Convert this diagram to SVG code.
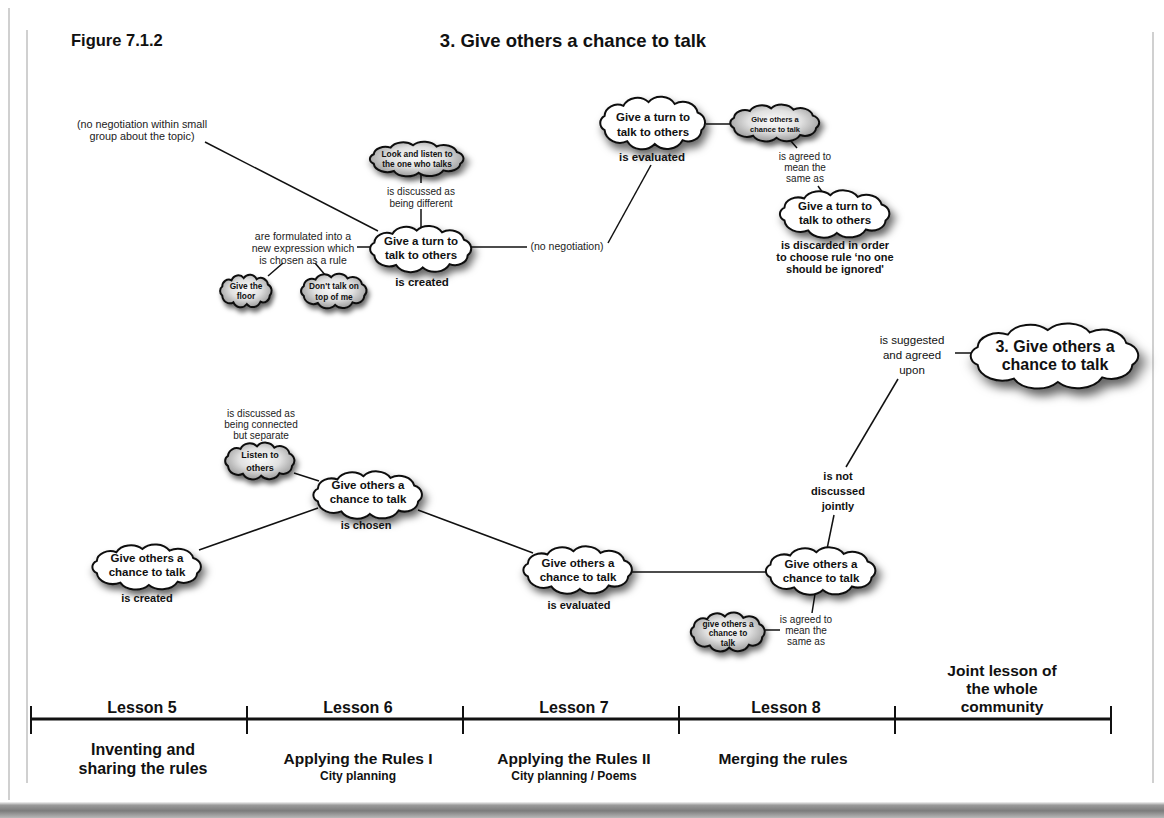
<svg xmlns="http://www.w3.org/2000/svg" xmlns:xlink="http://www.w3.org/1999/xlink" width="1164" height="818" viewBox="0 0 1164 818">
  <style>
    text { font-family: "Liberation Sans", Arial, sans-serif; fill: #111; text-anchor: middle; }
    .b { font-weight: bold; }
    .t12 { font-size: 11.5px; font-weight: bold; }
    .t8 { font-size: 8.3px; font-weight: bold; }
    .lbl { font-size: 10.5px; fill: #222; }
    .lbs { font-size: 10px; fill: #222; }
    .tl { font-size: 16px; font-weight: bold; }
    .sub { font-size: 15.5px; font-weight: bold; }
    .edge { stroke: #111; stroke-width: 1.5; fill: none; }
    .white { fill: #fff; }
    .grey { fill: url(#greyFill); }
    .frame { stroke: #d0d0d0; stroke-width: 2; fill: none; }
  </style>
  <defs>
    <!-- generic cloud outline, about 94 x 52, centred on 0,0 -->
    <path id="cloud" stroke="#111" stroke-width="2" vector-effect="non-scaling-stroke"
      d="M-43.2,-7.2 A11.7,11.7 0 0 1 -26.4,-17.2 A13.6,13.6 0 0 1 -4,-20.9 A14.1,14.1 0 0 1 19.4,-19 A13.3,13.3 0 0 1 39.8,-10.5 A10.8,10.8 0 0 1 43.2,7.2 A11.7,11.7 0 0 1 26.4,17.2 A15.1,15.1 0 0 1 1.6,21 A14.9,14.9 0 0 1 -23,18.2 A13.8,13.8 0 0 1 -43.2,7.2 A8.6,8.6 0 0 1 -43.2,-7.2 Z"/>
    <radialGradient id="greyFill" cx="50%" cy="45%" r="60%">
      <stop offset="0" stop-color="#fbfbfb"/>
      <stop offset="0.5" stop-color="#e0e0e0"/>
      <stop offset="1" stop-color="#909090"/>
    </radialGradient>
    <filter id="shadow" x="-25%" y="-25%" width="160%" height="180%">
      <feGaussianBlur in="SourceAlpha" stdDeviation="4"/>
      <feOffset dx="3" dy="6" result="o"/>
      <feFlood flood-color="#000" flood-opacity="0.6"/>
      <feComposite in2="o" operator="in"/>
      <feMerge><feMergeNode/><feMergeNode in="SourceGraphic"/></feMerge>
    </filter>
    <linearGradient id="curl" x1="0" y1="0" x2="0" y2="1">
      <stop offset="0" stop-color="#f4f4f4"/>
      <stop offset="0.2" stop-color="#9a9a9a"/>
      <stop offset="0.55" stop-color="#7c7c7c"/>
      <stop offset="1" stop-color="#b8b8b8"/>
    </linearGradient>
  </defs>

  <!-- page background and frame -->
  <rect width="1164" height="818" fill="#fff"/>
  <rect x="0" y="802" width="1164" height="16" fill="url(#curl)"/>
  <line class="frame" x1="9" y1="8" x2="9" y2="800"/>
  <line class="frame" x1="27" y1="30" x2="27" y2="783"/>
  <line class="frame" x1="1153" y1="32" x2="1153" y2="783"/>

  <!-- headings -->
  <text x="71" y="46" class="b" style="font-size:16.5px;text-anchor:start">Figure 7.1.2</text>
  <text x="573" y="47" class="b" style="font-size:18.5px">3. Give others a chance to talk</text>

  <!-- connectors and their labels -->
  <g id="connectors">
    <line class="edge" x1="205" y1="142" x2="378" y2="231"/>
    <line class="edge" x1="421" y1="173" x2="421" y2="183"/>
    <line class="edge" x1="421" y1="209" x2="421" y2="229"/>
    <line class="edge" x1="357" y1="247" x2="372" y2="247"/>
    <line class="edge" x1="283" y1="263" x2="268" y2="276"/>
    <line class="edge" x1="315" y1="263" x2="326" y2="276"/>
    <line class="edge" x1="471" y1="247" x2="527" y2="247"/>
    <line class="edge" x1="608" y1="243" x2="651" y2="165"/>
    <line class="edge" x1="706" y1="124" x2="732" y2="124"/>
    <line class="edge" x1="790" y1="140" x2="797" y2="148"/>
    <line class="edge" x1="818" y1="186" x2="823" y2="193"/>
    <line class="edge" x1="955" y1="353" x2="976" y2="353"/>
    <line class="edge" x1="898" y1="379" x2="846" y2="467"/>
    <line class="edge" x1="834" y1="515" x2="827" y2="549"/>
    <line class="edge" x1="815" y1="594" x2="812" y2="613"/>
    <line class="edge" x1="764" y1="630" x2="780" y2="630"/>
    <line class="edge" x1="630" y1="572" x2="768" y2="572"/>
    <line class="edge" x1="199" y1="550" x2="318" y2="508"/>
    <line class="edge" x1="418" y1="510" x2="533" y2="553"/>
    <line class="edge" x1="294" y1="473" x2="319" y2="481"/>

    <text class="lbl" x="142" y="128" style="font-size:10.8px">(no negotiation within small</text>
    <text class="lbl" x="142" y="140" style="font-size:10.8px">group about the topic)</text>
    <text class="lbs" x="421" y="195">is discussed as</text>
    <text class="lbs" x="421" y="207">being different</text>
    <text class="lbl" x="303" y="240">are formulated into a</text>
    <text class="lbl" x="303" y="252">new expression which</text>
    <text class="lbl" x="303" y="264">is chosen as a rule</text>
    <text class="lbl" x="567" y="250">(no negotiation)</text>
    <text class="lbs" x="805" y="160">is agreed to</text>
    <text class="lbs" x="805" y="171">mean the</text>
    <text class="lbs" x="805" y="182">same as</text>
    <text x="912" y="344" style="font-size:11.5px">is suggested</text>
    <text x="912" y="359" style="font-size:11.5px">and agreed</text>
    <text x="912" y="374" style="font-size:11.5px">upon</text>
    <text class="b" x="838" y="480" style="font-size:11px">is not</text>
    <text class="b" x="838" y="495" style="font-size:11px">discussed</text>
    <text class="b" x="838" y="510" style="font-size:11px">jointly</text>
    <text class="lbs" x="806" y="623">is agreed to</text>
    <text class="lbs" x="806" y="634">mean the</text>
    <text class="lbs" x="806" y="645">same as</text>
    <text class="lbs" x="261" y="417">is discussed as</text>
    <text class="lbs" x="261" y="428">being connected</text>
    <text class="lbs" x="261" y="439">but separate</text>
  </g>

  <!-- Lesson 5 node -->
  <g id="n-l5-created">
    <use xlink:href="#cloud" class="white" filter="url(#shadow)" transform="translate(147,567) scale(1.16,0.86)"/>
    <text class="t12" x="147" y="562">Give others a</text>
    <text class="t12" x="147" y="576">chance to talk</text>
    <text class="t12" x="147" y="602" style="font-size:11px">is created</text>
  </g>

  <!-- Lesson 6 nodes -->
  <g id="n-listen">
    <use xlink:href="#cloud" class="grey" filter="url(#shadow)" transform="translate(260,461) scale(0.74,0.7)"/>
    <text class="b" x="260" y="458" style="font-size:9px">Listen to</text>
    <text class="b" x="260" y="471" style="font-size:9px">others</text>
  </g>
  <g id="n-l6-chosen">
    <use xlink:href="#cloud" class="white" filter="url(#shadow)" transform="translate(368,495) scale(1.16,0.9)"/>
    <text class="t12" x="368" y="489">Give others a</text>
    <text class="t12" x="368" y="503">chance to talk</text>
    <text class="t12" x="366" y="529" style="font-size:11px">is chosen</text>
  </g>

  <!-- Lesson 7 node -->
  <g id="n-l7-evaluated">
    <use xlink:href="#cloud" class="white" filter="url(#shadow)" transform="translate(578,570) scale(1.16,0.9)"/>
    <text class="t12" x="578" y="567">Give others a</text>
    <text class="t12" x="578" y="581">chance to talk</text>
    <text class="t12" x="579" y="609" style="font-size:11px">is evaluated</text>
  </g>

  <!-- Lesson 8 nodes -->
  <g id="n-l8">
    <use xlink:href="#cloud" class="white" filter="url(#shadow)" transform="translate(821,571) scale(1.17,0.9)"/>
    <text class="t12" x="821" y="568">Give others a</text>
    <text class="t12" x="821" y="582">chance to talk</text>
  </g>
  <g id="n-l8-variant">
    <use xlink:href="#cloud" class="grey" filter="url(#shadow)" transform="translate(728,632) scale(0.79,0.74)"/>
    <text class="t8" x="728" y="627">give others a</text>
    <text class="t8" x="728" y="636">chance to</text>
    <text class="t8" x="728" y="646">talk</text>
  </g>

  <!-- agreed rule -->
  <g id="n-final">
    <use xlink:href="#cloud" class="white" filter="url(#shadow)" transform="translate(1055,356) scale(1.79,1.24)"/>
    <text class="b" x="1055" y="352" style="font-size:16px">3. Give others a</text>
    <text class="b" x="1055" y="370" style="font-size:16px">chance to talk</text>
  </g>

  <!-- upper strand -->
  <g id="n-look">
    <use xlink:href="#cloud" class="grey" filter="url(#shadow)" transform="translate(417,159) scale(1.0,0.66)"/>
    <text class="t8" x="417" y="157">Look and listen to</text>
    <text class="t8" x="417" y="167">the one who talks</text>
  </g>
  <g id="n-turn-created">
    <use xlink:href="#cloud" class="white" filter="url(#shadow)" transform="translate(421,249) scale(1.08,0.88)"/>
    <text class="t12" x="421" y="245">Give a turn to</text>
    <text class="t12" x="421" y="259">talk to others</text>
    <text class="t12" x="422" y="286">is created</text>
  </g>
  <g id="n-floor">
    <use xlink:href="#cloud" class="grey" filter="url(#shadow)" transform="translate(246,291) scale(0.55,0.62)"/>
    <text class="t8" x="246" y="289">Give the</text>
    <text class="t8" x="246" y="299">floor</text>
  </g>
  <g id="n-donttalk">
    <use xlink:href="#cloud" class="grey" filter="url(#shadow)" transform="translate(334,291) scale(0.7,0.66)"/>
    <text class="t8" x="334" y="289">Don't talk on</text>
    <text class="t8" x="334" y="300">top of me</text>
  </g>
  <g id="n-turn-evaluated">
    <use xlink:href="#cloud" class="white" filter="url(#shadow)" transform="translate(653,123) scale(1.12,1.0)"/>
    <text class="t12" x="653" y="121">Give a turn to</text>
    <text class="t12" x="653" y="136">talk to others</text>
    <text class="t12" x="652" y="161">is evaluated</text>
  </g>
  <g id="n-others-grey">
    <use xlink:href="#cloud" class="grey" filter="url(#shadow)" transform="translate(775,123) scale(0.95,0.7)"/>
    <text class="t8" x="775" y="122" style="font-size:7.5px">Give others a</text>
    <text class="t8" x="775" y="132" style="font-size:7.5px">chance to talk</text>
  </g>
  <g id="n-turn-discarded">
    <use xlink:href="#cloud" class="white" filter="url(#shadow)" transform="translate(835,214) scale(1.17,0.9)"/>
    <text class="t12" x="835" y="210">Give a turn to</text>
    <text class="t12" x="835" y="224">talk to others</text>
    <text class="t12" x="835" y="249" style="font-size:11px">is discarded in order</text>
    <text class="t12" x="835" y="261" style="font-size:11px">to choose rule ‘no one</text>
    <text class="t12" x="835" y="273" style="font-size:11px">should be ignored'</text>
  </g>

  <!-- lesson timeline -->
  <g id="timeline">
    <line x1="31" y1="719" x2="1111" y2="719" stroke="#111" stroke-width="3"/>
    <g stroke="#111" stroke-width="2">
      <line x1="31" y1="706" x2="31" y2="734"/>
      <line x1="247" y1="706" x2="247" y2="734"/>
      <line x1="463" y1="706" x2="463" y2="734"/>
      <line x1="679" y1="706" x2="679" y2="734"/>
      <line x1="895" y1="706" x2="895" y2="734"/>
      <line x1="1111" y1="706" x2="1111" y2="734"/>
    </g>
    <text class="tl" x="142" y="713">Lesson 5</text>
    <text class="tl" x="358" y="713">Lesson 6</text>
    <text class="tl" x="574" y="713">Lesson 7</text>
    <text class="tl" x="786" y="713">Lesson 8</text>
    <text class="sub" x="1002" y="676">Joint lesson of</text>
    <text class="sub" x="1002" y="694">the whole</text>
    <text class="sub" x="1002" y="712">community</text>
    <text class="tl" x="143" y="755">Inventing and</text>
    <text class="tl" x="143" y="774">sharing the rules</text>
    <text class="sub" x="358" y="764">Applying the Rules I</text>
    <text class="b" x="358" y="780" style="font-size:12px">City planning</text>
    <text class="sub" x="574" y="764">Applying the Rules II</text>
    <text class="b" x="574" y="780" style="font-size:12px">City planning /  Poems</text>
    <text class="sub" x="783" y="764">Merging the rules</text>
  </g>
</svg>
